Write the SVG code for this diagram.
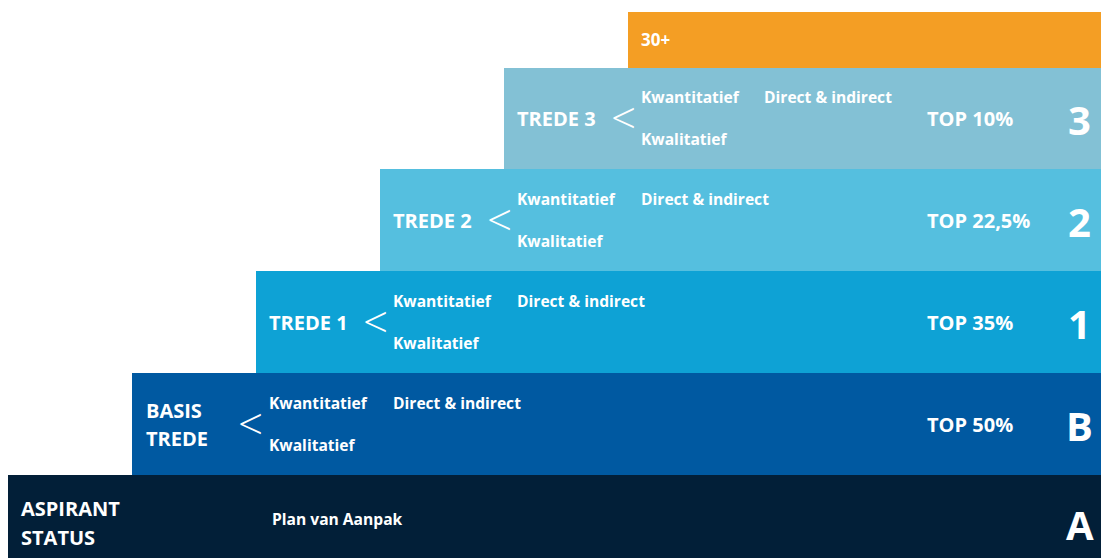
<svg xmlns="http://www.w3.org/2000/svg" width="1101" height="558" viewBox="0 0 1101 558">
<style>
text{font-family:"Open Sans","Liberation Sans",sans-serif;fill:#fff;font-weight:700}
.t{font-size:20px}
.s{font-size:15.6px}
.lt{font-size:44px;font-weight:300}
.big{font-size:40px}
</style>
<rect width="1101" height="558" fill="#fff"/>
<g id="top30">
<rect x="628" y="12" width="473" height="56" fill="#f49e24"/>
<text x="641" y="46" style="font-size:17px">30+</text>
</g>
<g id="trede3">
<rect x="504" y="68" width="597" height="101" fill="#83c1d5"/>
<text class="t" x="517" y="126">TREDE 3</text>
<text class="lt" x="611" y="134">&lt;</text>
<text class="s" x="641" y="103">Kwantitatief</text>
<text class="s" x="764" y="103">Direct &amp; indirect</text>
<text class="s" x="641" y="145">Kwalitatief</text>
<text class="t" x="927" y="126">TOP 10%</text>
<text class="big" x="1068" y="135">3</text>
</g>
<g id="trede2">
<rect x="380" y="169" width="721" height="102" fill="#55bfdf"/>
<text class="t" x="393" y="228">TREDE 2</text>
<text class="lt" x="487" y="236">&lt;</text>
<text class="s" x="517" y="205">Kwantitatief</text>
<text class="s" x="641" y="205">Direct &amp; indirect</text>
<text class="s" x="517" y="247">Kwalitatief</text>
<text class="t" x="927" y="228">TOP 22,5%</text>
<text class="big" x="1068" y="237">2</text>
</g>
<g id="trede1">
<rect x="256" y="271" width="845" height="102" fill="#0ea2d5"/>
<text class="t" x="269" y="330">TREDE 1</text>
<text class="lt" x="363" y="338">&lt;</text>
<text class="s" x="393" y="307">Kwantitatief</text>
<text class="s" x="517" y="307">Direct &amp; indirect</text>
<text class="s" x="393" y="349">Kwalitatief</text>
<text class="t" x="927" y="330">TOP 35%</text>
<text class="big" x="1068" y="339">1</text>
</g>
<g id="basis">
<rect x="132" y="373" width="969" height="102" fill="#0059a1"/>
<text class="t" x="146" y="418">BASIS</text>
<text class="t" x="146" y="446">TREDE</text>
<text class="lt" x="238" y="440">&lt;</text>
<text class="s" x="269" y="409">Kwantitatief</text>
<text class="s" x="393" y="409">Direct &amp; indirect</text>
<text class="s" x="269" y="451">Kwalitatief</text>
<text class="t" x="927" y="432">TOP 50%</text>
<text class="big" x="1066" y="441">B</text>
</g>
<g id="aspirant">
<rect x="8" y="475" width="1093" height="83" fill="#021f38"/>
<text class="t" x="21" y="516">ASPIRANT</text>
<text class="t" x="21" y="545">STATUS</text>
<text class="s" x="272" y="525">Plan van Aanpak</text>
<text class="big" x="1066" y="540">A</text>
</g>
<g id="connectors"/>
</svg>
